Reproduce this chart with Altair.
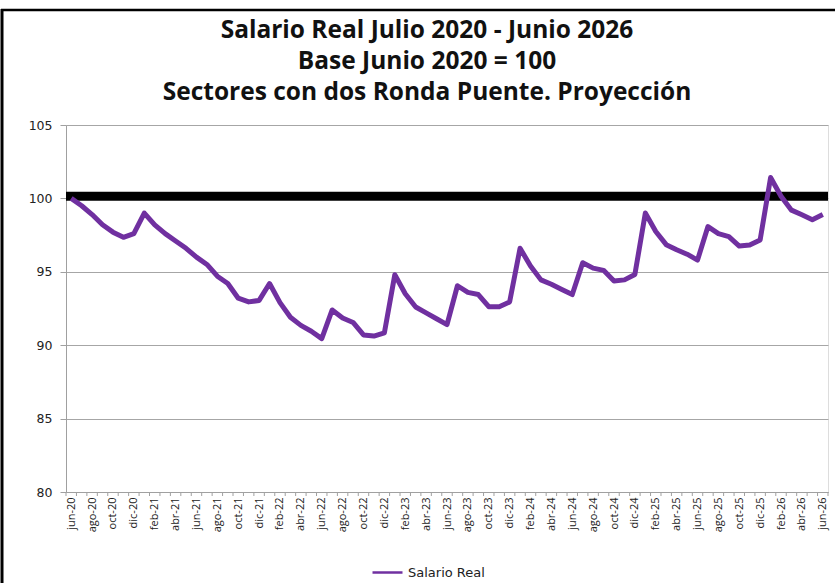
import altair as alt
import pandas as pd

meses = ["jun-20","jul-20","ago-20","sep-20","oct-20","nov-20","dic-20",
         "ene-21","feb-21","mar-21","abr-21","may-21","jun-21","jul-21","ago-21","sep-21","oct-21","nov-21","dic-21",
         "ene-22","feb-22","mar-22","abr-22","may-22","jun-22","jul-22","ago-22","sep-22","oct-22","nov-22","dic-22",
         "ene-23","feb-23","mar-23","abr-23","may-23","jun-23","jul-23","ago-23","sep-23","oct-23","nov-23","dic-23",
         "ene-24","feb-24","mar-24","abr-24","may-24","jun-24","jul-24","ago-24","sep-24","oct-24","nov-24","dic-24",
         "ene-25","feb-25","mar-25","abr-25","may-25","jun-25","jul-25","ago-25","sep-25","oct-25","nov-25","dic-25",
         "ene-26","feb-26","mar-26","abr-26","may-26","jun-26"]

salario_real = [100.0, 99.5, 98.9, 98.2, 97.7, 97.35, 97.6,
                99.0, 98.2, 97.6, 97.1, 96.6, 96.0, 95.5, 94.7, 94.2, 93.2, 92.95, 93.05,
                94.2, 92.9, 91.9, 91.35, 90.95, 90.45, 92.4, 91.85, 91.55, 90.7, 90.62, 90.84,
                94.8, 93.5, 92.6, 92.2, 91.8, 91.4, 94.05, 93.6, 93.45, 92.62, 92.62, 92.95,
                96.6, 95.4, 94.45, 94.15, 93.8, 93.45, 95.62, 95.25, 95.1, 94.38, 94.45, 94.82,
                99.0, 97.75, 96.85, 96.5, 96.2, 95.8, 98.08, 97.6, 97.4, 96.75, 96.82, 97.17,
                101.42, 100.15, 99.2, 98.88, 98.55, 98.9]

serie = "Salario Real"
base = 100.15

titulo = ["Salario Real Julio 2020 - Junio 2026",
          "Base Junio 2020 = 100",
          "Sectores con dos Ronda Puente. Proyección"]

W, H = 762, 367

df = pd.DataFrame({"i": list(range(len(meses))), "mes": meses, "valor": salario_real, "serie": serie})
df_ticks = pd.DataFrame({"b": [k - 0.5 for k in range(len(meses) + 1)]})
df_base = pd.DataFrame({"v": [base]})

label_js = "[" + ",".join("'%s'" % m for m in meses) + "]"

x_scale = alt.Scale(domain=[-0.5, len(meses) - 0.5], nice=False, zero=False)
y_scale = alt.Scale(domain=[80, 105], nice=False, zero=False)

x_axis = alt.Axis(values=list(range(0, len(meses), 2)), labelExpr=label_js + "[datum.value]",
                  labelAngle=-90, labelAlign="right", labelBaseline="middle",
                  labelFont="Open Sans", labelFontSize=11, labelColor="#222222",
                  ticks=False, labelPadding=5, grid=False, domainColor="#a0a0a0",
                  title=None, labelOverlap=False, labelFlush=False)
y_axis = alt.Axis(values=[80, 85, 90, 95, 100, 105], tickSize=6, tickColor="#a0a0a0",
                  gridColor="#a6a6a6", domainColor="#a0a0a0", labelFont="DejaVu Sans",
                  labelFontSize=12.5, labelColor="#222222", labelPadding=8, title=None)

line = alt.Chart(df).mark_line(strokeWidth=5, strokeJoin="round").encode(
    x=alt.X("i:Q", scale=x_scale, axis=x_axis),
    y=alt.Y("valor:Q", scale=y_scale, axis=y_axis),
    color=alt.Color("serie:N", scale=alt.Scale(domain=[serie], range=["#7030A0"]),
                    legend=alt.Legend(orient="none", legendX=305, legendY=431, title=None,
                                      symbolType="stroke", symbolStrokeWidth=2.5, symbolSize=900,
                                      labelFont="DejaVu Sans", labelFontSize=13, labelColor="#222222",
                                      labelOffset=4)),
)

ticks = alt.Chart(df_ticks).mark_rule(color="#a0a0a0", strokeWidth=1).encode(
    x=alt.X("b:Q", scale=x_scale, axis=x_axis), y=alt.value(H), y2=alt.value(H + 4))

base_rule = alt.Chart(df_base).mark_rule(color="black", strokeWidth=9).encode(
    y=alt.Y("v:Q", scale=y_scale, axis=y_axis), x=alt.value(0), x2=alt.value(W))

border_left = alt.Chart(df_base).mark_rule(color="black", strokeWidth=3).encode(
    x=alt.value(-64), y=alt.value(-116), y2=alt.value(H + 95))
border_top = alt.Chart(df_base).mark_rule(color="black", strokeWidth=2.5).encode(
    y=alt.value(-115), x=alt.value(-65), x2=alt.value(W + 10))

title_layers = [
    alt.Chart(df_base).mark_text(text=t, font="Open Sans", fontSize=24.5, fontWeight="bold", color="#111111",
                                 align="center", baseline="middle").encode(
        x=alt.value(W / 2 - 20), y=alt.value(-94 + k * 31))
    for k, t in enumerate(titulo)
]

chart = alt.layer(base_rule, line, ticks, border_left, border_top, *title_layers).properties(
    width=W, height=H,
    autosize=alt.AutoSizeParams(type="none"),
    padding={"left": 66, "top": 125, "right": 7, "bottom": 91},
).configure_view(stroke=None).configure(background="white")

chart.save("out.html", embed_options={"renderer": "svg", "actions": False})
